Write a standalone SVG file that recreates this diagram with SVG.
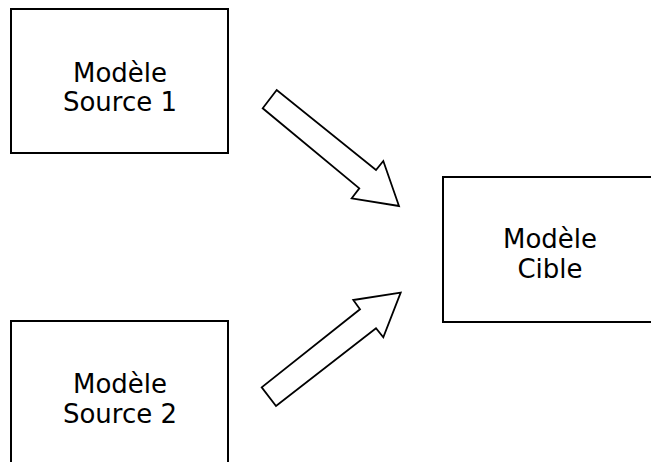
<svg xmlns="http://www.w3.org/2000/svg" width="651" height="462" viewBox="0 0 651 462">
  <style>
    .box { fill: #ffffff; stroke: #000000; stroke-width: 2; }
    .arrow { fill: #ffffff; stroke: #000000; stroke-width: 1.8; stroke-linejoin: miter; }
    .label { font-family: "DejaVu Sans", Verdana, sans-serif; font-size: 26px; fill: #000000; text-anchor: middle; }
  </style>
  <rect width="651" height="462" fill="#ffffff"/>

  <g id="source1">
    <rect class="box" x="11" y="9" width="217" height="144"/>
    <text class="label" x="120" y="82">Modèle</text>
    <text class="label" x="120" y="111">Source 1</text>
  </g>

  <g id="source2">
    <rect class="box" x="11" y="321" width="217" height="160"/>
    <text class="label" x="120" y="393">Modèle</text>
    <text class="label" x="120" y="423">Source 2</text>
  </g>

  <g id="cible">
    <rect class="box" x="443" y="177" width="220" height="145"/>
    <text class="label" x="550" y="248">Modèle</text>
    <text class="label" x="550" y="278">Cible</text>
  </g>

  <g id="connectors">
    <polygon class="arrow" points="276.7,90 262.7,108.3 359.3,188.3 351.7,198.3 399,206 383.3,161 376,170"/>
    <polygon class="arrow" points="276,406 261.7,387.3 360,309.3 353.3,300 400.7,292.7 383.3,337.3 376,328.3"/>
  </g>
</svg>
